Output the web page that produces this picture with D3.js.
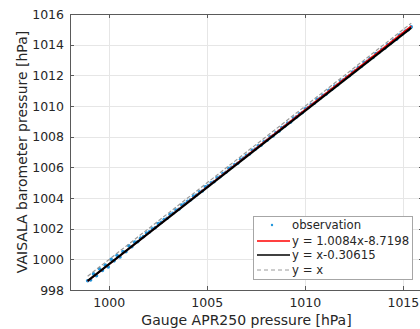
<!DOCTYPE html>
<html>
<head>
<meta charset="utf-8">
<script src="https://cdn.jsdelivr.net/npm/d3@7"></script>
<style>
  body { margin: 0; background: #fff; }
  svg { display: block; font-family: "DejaVu Sans", sans-serif; }
</style>
</head>
<body>
<svg id="chart" width="420" height="329"></svg>
<script>
'use strict';

// gauge (x) vs vaisala (y) readings
const gaugeObs = [
  998.90, 999.05, 999.20, 999.35, 999.50, 999.65, 999.80, 999.95,
  1000.10, 1000.25, 1000.40, 1000.55, 1000.70, 1000.85, 1001.00, 1001.15,
  1001.30, 1001.45, 1001.60, 1001.75, 1001.90, 1002.05, 1002.20, 1002.35,
  1002.50, 1002.65, 1002.80, 1002.95, 1003.10, 1003.25, 1003.40, 1003.55,
  1003.70, 1003.85, 1004.00, 1004.15, 1004.30, 1004.45, 1004.60, 1004.75,
  1004.90, 1005.05, 1005.20, 1005.35, 1005.50, 1005.65, 1005.80, 1005.95,
  1006.10, 1006.25, 1006.40, 1006.55, 1006.70, 1006.85, 1007.00, 1007.15,
  1007.30, 1007.45, 1007.60, 1007.75, 1007.90, 1008.05, 1008.20, 1008.35,
  1008.50, 1008.65, 1008.80, 1008.95, 1009.10, 1009.25, 1009.40, 1009.55,
  1009.70, 1009.85, 1010.00, 1010.15, 1010.30, 1010.45, 1010.60, 1010.75,
  1010.90, 1011.05, 1011.20, 1011.35, 1011.50, 1011.65, 1011.80, 1011.95,
  1012.10, 1012.25, 1012.40, 1012.55, 1012.70, 1012.85, 1013.00, 1013.15,
  1013.30, 1013.45, 1013.60, 1013.75, 1013.90, 1014.05, 1014.20, 1014.35,
  1014.50, 1014.65, 1014.80, 1014.95, 1015.10, 1015.25, 1015.40
];
const vaisalaObs = [
  998.60, 998.65, 999.05, 998.93, 999.38, 999.27, 999.62, 999.50,
  1000.00, 999.90, 1000.26, 1000.15, 1000.50, 1000.49, 1000.88, 1000.82,
  1001.12, 1001.15, 1001.38, 1001.48, 1001.72, 1001.79, 1001.99, 1002.07,
  1002.34, 1002.41, 1002.60, 1002.68, 1002.93, 1003.00, 1003.21, 1003.27,
  1003.54, 1003.62, 1003.79, 1003.88, 1004.12, 1004.20, 1004.40, 1004.46,
  1004.73, 1004.81, 1004.99, 1005.07, 1005.32, 1005.39, 1005.60, 1005.68,
  1005.93, 1006.00, 1006.18, 1006.26, 1006.52, 1006.61, 1006.79, 1006.87,
  1007.11, 1007.19, 1007.40, 1007.45, 1007.68, 1007.77, 1007.99, 1008.05,
  1008.27, 1008.36, 1008.60, 1008.68, 1008.88, 1008.95, 1009.21, 1009.29,
  1009.49, 1009.57, 1009.82, 1009.90, 1010.10, 1010.18, 1010.43, 1010.51,
  1010.69, 1010.77, 1011.02, 1011.09, 1011.30, 1011.38, 1011.63, 1011.71,
  1011.89, 1011.97, 1012.22, 1012.30, 1012.50, 1012.58, 1012.83, 1012.91,
  1013.09, 1013.16, 1013.42, 1013.49, 1013.70, 1013.77, 1014.01, 1014.09,
  1014.29, 1014.36, 1014.62, 1014.70, 1014.88, 1014.97, 1015.16
];

// fitted lines: [slope, intercept]
const fitNames = ['y = 1.0084x-8.7198', 'y = x-0.30615', 'y = x'];
const fitCoefs = [[1.0084, -8.7198], [1, -0.30615], [1, 0]];

const xTicks = [1000, 1005, 1010, 1015];
const yTicks = [998, 1000, 1002, 1004, 1006, 1008, 1010, 1012, 1014, 1016];
const xDomain = [998, 1016];
const yDomain = [998, 1016];

function drawChart() {
  const svg = d3.select('#chart');
  const pl = 70, pt = 14, pr = 423, pb = 290;

  const x = d3.scaleLinear().domain(xDomain).range([pl, pr]);
  const y = d3.scaleLinear().domain(yDomain).range([pb, pt]);

  // grid
  const grid = svg.append('g').attr('stroke', '#e6e6e6').attr('stroke-width', 1);
  grid.selectAll('line.vx').data(xTicks).enter().append('line')
    .attr('x1', d => Math.round(x(d)) + 0.5).attr('x2', d => Math.round(x(d)) + 0.5)
    .attr('y1', pt).attr('y2', pb);
  grid.selectAll('line.hy').data(yTicks).enter().append('line')
    .attr('y1', d => Math.round(y(d)) + 0.5).attr('y2', d => Math.round(y(d)) + 0.5)
    .attr('x1', pl).attr('x2', pr);

  // data
  const xr = d3.extent(gaugeObs);
  const styles = [
    { stroke: '#ff0000', width: 1.6, dash: null },
    { stroke: '#000000', width: 2, dash: null },
    { stroke: '#9a9a9a', width: 1.2, dash: '4,2' }
  ];
  const dotColor = '#2196dc';

  const line = d3.line().x(d => x(d[0])).y(d => y(d[1]));
  const drawFit = i => {
    const c = fitCoefs[i];
    const pts = xr.map(v => [v, c[0] * v + c[1]]);
    svg.append('path').datum(pts)
      .attr('d', line)
      .attr('fill', 'none')
      .attr('stroke', styles[i].stroke)
      .attr('stroke-width', styles[i].width)
      .attr('stroke-dasharray', styles[i].dash);
  };

  const obs = d3.range(gaugeObs.length).map(i => ({ gx: gaugeObs[i], vy: vaisalaObs[i] }));
  svg.append('g').selectAll('circle').data(obs).enter().append('circle')
    .attr('cx', d => x(d.gx)).attr('cy', d => y(d.vy))
    .attr('r', 1.8).attr('fill', dotColor);

  drawFit(2);
  drawFit(0);
  drawFit(1);

  // axes box
  const axisColor = '#5a5a5a';
  svg.append('rect')
    .attr('x', pl + 0.5).attr('y', pt + 0.5)
    .attr('width', pr - pl).attr('height', pb - pt)
    .attr('fill', 'none').attr('stroke', axisColor);

  const tickLen = 4;
  const tk = svg.append('g').attr('stroke', axisColor);
  xTicks.forEach(t => {
    const px = Math.round(x(t)) + 0.5;
    tk.append('line').attr('x1', px).attr('x2', px).attr('y1', pb).attr('y2', pb - tickLen);
    tk.append('line').attr('x1', px).attr('x2', px).attr('y1', pt).attr('y2', pt + tickLen);
  });
  yTicks.forEach(t => {
    const py = Math.round(y(t)) + 0.5;
    tk.append('line').attr('y1', py).attr('y2', py).attr('x1', pl).attr('x2', pl + tickLen);
    tk.append('line').attr('y1', py).attr('y2', py).attr('x1', pr).attr('x2', pr - tickLen);
  });

  const labColor = '#262626';
  svg.append('g').selectAll('text').data(xTicks).enter().append('text')
    .attr('x', d => x(d)).attr('y', 307)
    .attr('text-anchor', 'middle').attr('font-size', 12.5).attr('fill', labColor)
    .text(d => d);
  svg.append('g').selectAll('text').data(yTicks).enter().append('text')
    .attr('x', 64).attr('y', d => y(d) + 4.5)
    .attr('text-anchor', 'end').attr('font-size', 12.5).attr('fill', labColor)
    .text(d => d);

  svg.append('text')
    .attr('x', (pl + pr) / 2).attr('y', 325)
    .attr('text-anchor', 'middle').attr('font-size', 14).attr('fill', labColor)
    .text('Gauge APR250 pressure [hPa]');
  svg.append('text')
    .attr('transform', `translate(27,${(pt + pb) / 2}) rotate(-90)`)
    .attr('text-anchor', 'middle').attr('font-size', 14).attr('fill', labColor)
    .text('VAISALA barometer pressure [hPa]');

  // legend
  const lg = svg.append('g').attr('transform', 'translate(253,216)');
  lg.append('rect').attr('x', 0.5).attr('y', 0.5).attr('width', 159).attr('height', 63)
    .attr('fill', '#fff').attr('stroke', '#a6a6a6');
  const rows = [9, 25, 39, 54];
  lg.append('circle').attr('cx', 19).attr('cy', rows[0]).attr('r', 1.2).attr('fill', dotColor);
  fitNames.forEach((n, i) => {
    lg.append('line').attr('x1', 4).attr('x2', 37)
      .attr('y1', rows[i + 1]).attr('y2', rows[i + 1])
      .attr('stroke', styles[i].stroke).attr('stroke-width', i === 2 ? 1 : 1.6)
      .attr('stroke-dasharray', i === 2 ? '4,3' : null);
  });
  ['observation'].concat(fitNames).forEach((n, i) => {
    lg.append('text').attr('x', 39).attr('y', rows[i] + 4.2)
      .attr('font-size', 11.7).attr('fill', labColor).text(n);
  });
}

drawChart();
</script>
</body>
</html>
